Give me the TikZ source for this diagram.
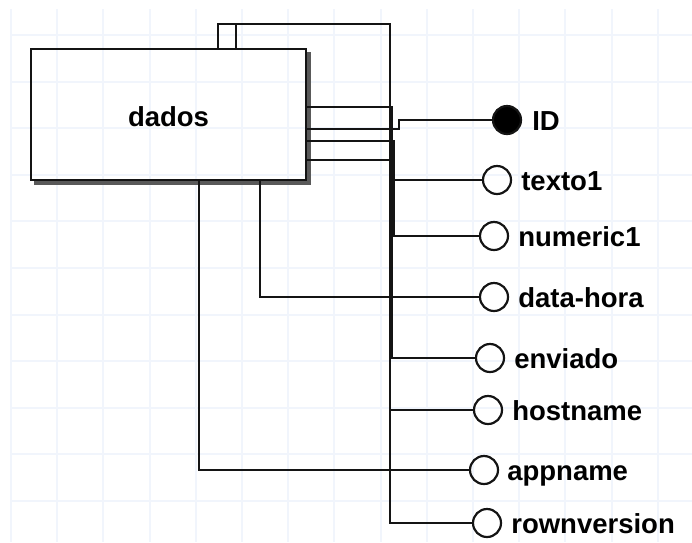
\documentclass[tikz,border=0pt]{standalone}
\usepackage{fontspec}
\setmainfont{Liberation Sans}
\definecolor{gridblue}{RGB}{241,245,252}
\definecolor{ink}{RGB}{20,20,20}
\tikzset{
  gridline/.style={draw=gridblue, line width=2pt},
  entity/.style={draw=ink, line width=2.2pt, rectangle, minimum width=275pt,
    minimum height=131pt, inner sep=0pt, outer sep=0pt,
    text height=23pt, text depth=0pt,
    font=\fontsize{27.5}{27.5}\selectfont\bfseries},
  attr/.style={circle, draw=ink, line width=2.2pt, minimum size=28pt, inner sep=0pt},
  keyattr/.style={attr, fill=black},
  attrlabel/.style={anchor=base west, inner sep=0pt,
    font=\fontsize{27.5}{27.5}\selectfont\bfseries},
  link/.style={draw=ink, line width=2.2pt},
  shadowline/.style={draw=black!65, line width=4pt}
}
\begin{document}
\begin{tikzpicture}[x=1pt, y=-1pt]
  \useasboundingbox (0,0) rectangle (692,542);

  % background grid
  \foreach \k in {0,...,14}
    \draw[gridline] ({11+46.2*\k},9) -- ({11+46.2*\k},542);
  \foreach \k in {0,...,10}
    \draw[gridline] (10,{35+46.6*\k}) -- (692,{35+46.6*\k});

  % entity with its drop shadow along the right and bottom edges
  \node[entity] (ent) at (168.5,114.5) {dados};
  \draw[shadowline] ([xshift=3pt,yshift=-3pt]ent.north east)
    -- ([xshift=3pt,yshift=-3pt]ent.south east)
    -- ([xshift=3pt,yshift=-3pt]ent.south west);

  % attributes
  \node[keyattr] (id)   at (507,120) {};
  \node[attr]    (txt)  at (497,180) {};
  \node[attr]    (num)  at (494,236) {};
  \node[attr]    (dh)   at (494,297) {};
  \node[attr]    (env)  at (490,358) {};
  \node[attr]    (host) at (488,410) {};
  \node[attr]    (app)  at (484,470) {};
  \node[attr]    (rowv) at (487,523) {};

  \node[attrlabel] (idL)   at ([xshift=10pt,yshift=-10pt]id.east)   {ID};
  \node[attrlabel] (txtL)  at ([xshift=9pt,yshift=-10pt]txt.east)   {texto1};
  \node[attrlabel] (numL)  at ([xshift=9pt,yshift=-10pt]num.east)   {numeric1};
  \node[attrlabel] (dhL)   at ([xshift=9pt,yshift=-10pt]dh.east)    {data-hora};
  \node[attrlabel] (envL)  at ([xshift=9pt,yshift=-10pt]env.east)   {enviado};
  \node[attrlabel] (hostL) at ([xshift=9pt,yshift=-10pt]host.east)  {hostname};
  \node[attrlabel] (appL)  at ([xshift=8pt,yshift=-10pt]app.east)   {appname};
  \node[attrlabel] (rowvL) at ([xshift=9pt,yshift=-10pt]rowv.east)  {rownversion};

  % connectors leaving the top edge
  \draw[link] (ent.north -| 218,0) |- (390,24) |- (rowv);
  \draw[link] (ent.north -| 236,0) -- (236,24);
  \draw[link] (236,24) -| (390,60) |- (host);

  % connectors leaving the right edge
  \draw[link] (ent.east |- 0,107) -- (392,107) |- (env);
  \draw[link] (ent.east |- 0,129) -- (399,129) -- (399,120) -- (id);
  \draw[link] (ent.east |- 0,141) -- (394,141) |- (num);
  \draw[link] (ent.east |- 0,160) -- (394,160) |- (txt);

  % connectors leaving the bottom edge
  \draw[link] (ent.south -| 199,0) |- (app);
  \draw[link] (ent.south -| 260,0) |- (dh);
\end{tikzpicture}
\end{document}
